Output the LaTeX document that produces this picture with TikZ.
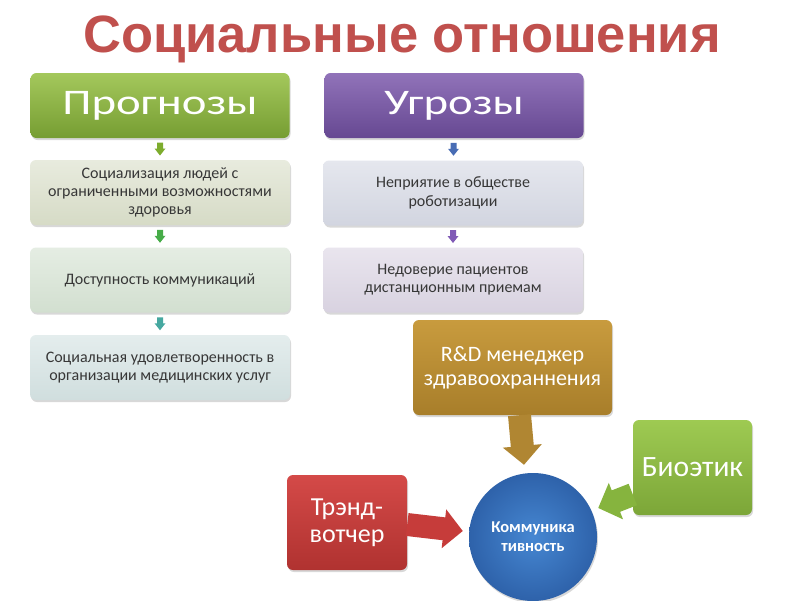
\documentclass[tikz,border=0pt]{standalone}
\usepackage{fontspec}
\setmainfont{Carlito}
\newfontfamily\titlefont{Liberation Sans}
\usetikzlibrary{calc,shadows,arrows.meta}
\definecolor{titlered}{RGB}{192,80,77}
\definecolor{boxtext}{RGB}{55,55,55}
\definecolor{sa1}{RGB}{125,172,45}
\definecolor{sa2}{RGB}{70,172,72}
\definecolor{sa3}{RGB}{70,168,160}
\definecolor{sb1}{RGB}{72,108,180}
\definecolor{sb2}{RGB}{128,90,182}
\tikzset{
  shadowed/.style={drop shadow={opacity=0.3,shadow xshift=1pt,shadow yshift=-2pt}},
  header/.style={rectangle,rounded corners=6pt,minimum width=259pt,minimum height=65pt,
     text=white,font=\fontsize{36}{40}\selectfont,shadowed},
  itembox/.style={rectangle,rounded corners=6pt,minimum width=260pt,minimum height=65pt,
     text=boxtext,align=center,font=\fontsize{16}{18.3}\selectfont,shadowed},
  rolebox/.style={rectangle,rounded corners=6pt,text=white,align=center,shadowed},
  bigarrow/.style={line width=23pt,-{Triangle[width=38pt,length=19pt]}},
}
\newcommand{\smallarr}[2]{%
  \fill[#2] (#1) ++(-3,-6.5) -- ++(6,0) -- ++(0,6) -- ++(2.5,0) -- ++(-5.5,7) -- ++(-5.5,-7) -- ++(2.5,0) -- cycle;}
\begin{document}
\begin{tikzpicture}[x=1pt,y=-1pt]
\fill[white] (0,0) rectangle (800,600);
\useasboundingbox (0,0) rectangle (800,600);

\node[text=titlered,font=\titlefont\bfseries\fontsize{52.5}{56}\selectfont] (title) at (402,39) {Социальные отношения};

% left column
\node[header,top color={rgb,255:red,164;green,200;blue,92},bottom color={rgb,255:red,118;green,157;blue,50}] (prog) at (160,105.5) {\scalebox{1.3}[1]{Прогнозы}};
\node[itembox,top color={rgb,255:red,232;green,235;blue,222},bottom color={rgb,255:red,214;green,219;blue,198}] (l1) at (160,192.5) {Социализация людей с\\ограниченными возможностями\\здоровья};
\node[itembox,top color={rgb,255:red,229;green,237;blue,227},bottom color={rgb,255:red,210;green,223;blue,208}] (l2) at (160,280) {Доступность коммуникаций};
\node[itembox,top color={rgb,255:red,228;green,237;blue,237},bottom color={rgb,255:red,208;green,222;blue,222}] (l3) at (160,367.5) {Социальная удовлетворенность в\\организации медицинских услуг};

\coordinate (a1) at ($(prog.south)!0.5!(l1.north)$);
\coordinate (a2) at ($(l1.south)!0.5!(l2.north)$);
\coordinate (a3) at ($(l2.south)!0.5!(l3.north)$);
\smallarr{a1}{sa1}
\smallarr{a2}{sa2}
\smallarr{a3}{sa3}

% right column
\node[header,top color={rgb,255:red,145;green,115;blue,185},bottom color={rgb,255:red,102;green,72;blue,146}] (ugr) at (454,105.5) {\scalebox{1.3}[1]{Угрозы}};
\node[itembox,top color={rgb,255:red,229;green,231;blue,238},bottom color={rgb,255:red,210;green,213;blue,224}] (r1) at (453,193) {Неприятие в обществе\\роботизации};
\node[itembox,top color={rgb,255:red,233;green,229;blue,238},bottom color={rgb,255:red,216;green,210;blue,224}] (r2) at (453,280) {Недоверие пациентов\\дистанционным приемам};

\coordinate (b1) at ($(ugr.south)!0.5!(r1.north)$);
\coordinate (b2) at ($(r1.south)!0.5!(r2.north)$);
\smallarr{b1}{sb1}
\smallarr{b2}{sb2}

% bottom cluster
\node[circle,minimum size=128pt,inner sep=0pt,inner color={rgb,255:red,70;green,135;blue,210},outer color={rgb,255:red,46;green,98;blue,170},
      text=white,align=center,font=\bfseries\fontsize{16.5}{19}\selectfont,shadowed] (circ) at (533,537) {Коммуника\\тивность};
\node[rolebox,minimum width=199pt,minimum height=95pt,top color={rgb,255:red,200;green,155;blue,62},bottom color={rgb,255:red,168;green,126;blue,42},
      font=\fontsize{22}{24}\selectfont] (rd) at (512.5,367.5) {R\&D менеджер\\здравоохраннения};
\node[rolebox,minimum width=119pt,minimum height=95pt,top color={rgb,255:red,158;green,202;blue,82},bottom color={rgb,255:red,124;green,166;blue,56},
      font=\fontsize{29.5}{32}\selectfont] (bio) at (692.5,467.5) {Биоэтик};
\node[rolebox,minimum width=120pt,minimum height=95pt,top color={rgb,255:red,212;green,74;blue,72},bottom color={rgb,255:red,176;green,50;blue,48},
      font=\fontsize{26}{27}\selectfont] (trend) at (347,522.5) {Трэнд-\\вотчер};

\draw[bigarrow,color={rgb,255:red,176;green,134;blue,50}] ($(rd.south)+(7,0)$) -- ($(circ.north)+(-9,-8)$);
\draw[bigarrow,color={rgb,255:red,198;green,60;blue,58}] ($(trend.east)+(0,2)$) -- ($(circ.west)+(-6,-6)$);
\draw[bigarrow,color={rgb,255:red,134;green,180;blue,62}] ($(bio.west)+(0,27)$) -- ($(circ.east)+(1,-29)$);
\end{tikzpicture}
\end{document}
